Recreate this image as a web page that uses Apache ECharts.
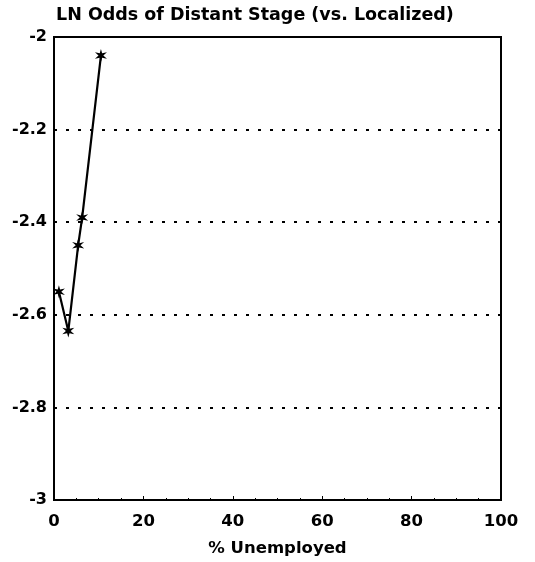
<!DOCTYPE html>
<html><head><meta charset="utf-8">
<script src="https://cdn.jsdelivr.net/npm/echarts@6/dist/echarts.min.js"></script>
<style>html,body{margin:0;padding:0;background:#fff}#c{width:535px;height:562px}</style>
</head><body><div id="c"></div>
<script>
const titleText = "LN Odds of Distant Stage (vs. Localized)";
const xAxisName = "% Unemployed";
const unemployed = [1.1, 3.2, 5.4, 6.3, 10.5];
const lnOdds = [-2.55, -2.635, -2.45, -2.39, -2.04];
const xTicks = [0, 20, 40, 60, 80, 100];
const yTicks = [-3, -2.8, -2.6, -2.4, -2.2, -2];

const font = '"DejaVu Sans", Verdana, sans-serif';
const chart = echarts.init(document.getElementById('c'));
chart.setOption({
  animation: false,
  backgroundColor: '#fff',
  title: {
    text: titleText, left: 51, top: 1,
    textStyle: {fontFamily: font, fontWeight: 'bold', fontSize: 17.5, color: '#000'}
  },
  grid: {left: 54, right: 34, top: 37, bottom: 62, containLabel: false},
  xAxis: {
    type: 'value', min: 0, max: 100, interval: 20,
    name: xAxisName, nameLocation: 'middle', nameGap: 40,
    nameTextStyle: {fontFamily: font, fontWeight: 'bold', fontSize: 16.5, color: '#000'},
    axisLine: {show: true, onZero: false, lineStyle: {color: '#000', width: 2}},
    axisTick: {show: true, inside: true, length: 4, lineStyle: {color: '#000'}},
    minorTick: {show: true, splitNumber: 4, length: 2, lineStyle: {color: '#000'}},
    axisLabel: {fontFamily: font, fontWeight: 'bold', fontSize: 16.5, color: '#000', margin: 13,
      formatter: v => xTicks.includes(v) ? String(v) : ''},
    splitLine: {show: false}
  },
  yAxis: {
    type: 'value', min: -3, max: -2, interval: 0.2,
    axisLine: {show: true, onZero: false, lineStyle: {color: '#000', width: 2}},
    axisTick: {show: false},
    axisLabel: {fontFamily: font, fontWeight: 'bold', fontSize: 16, color: '#000', margin: 7,
      formatter: v => {
        const t = yTicks.find(y => Math.abs(y - v) < 1e-9);
        return t === undefined ? '' : String(t);
      }},
    splitLine: {show: true, lineStyle: {color: '#000', type: [3, 9], width: 1.8}}
  },
  graphic: [{
    type: 'rect', shape: {x: 54, y: 37, width: 447, height: 463},
    style: {fill: 'none', stroke: '#000', lineWidth: 2}, silent: true, z: 10
  }],
  series: [{
    type: 'line',
    data: unemployed.map((x, i) => [x, lnOdds[i]]),
    lineStyle: {color: '#000', width: 2.2},
    symbol: 'path://M5,0 L6,4 L10,3 L7,6 L10,9 L6,8 L5,12 L4,8 L0,9 L3,6 L0,3 L4,4 Z',
    symbolSize: [12, 13],
    itemStyle: {color: '#000'},
    z: 5
  }]
});
</script></body></html>
